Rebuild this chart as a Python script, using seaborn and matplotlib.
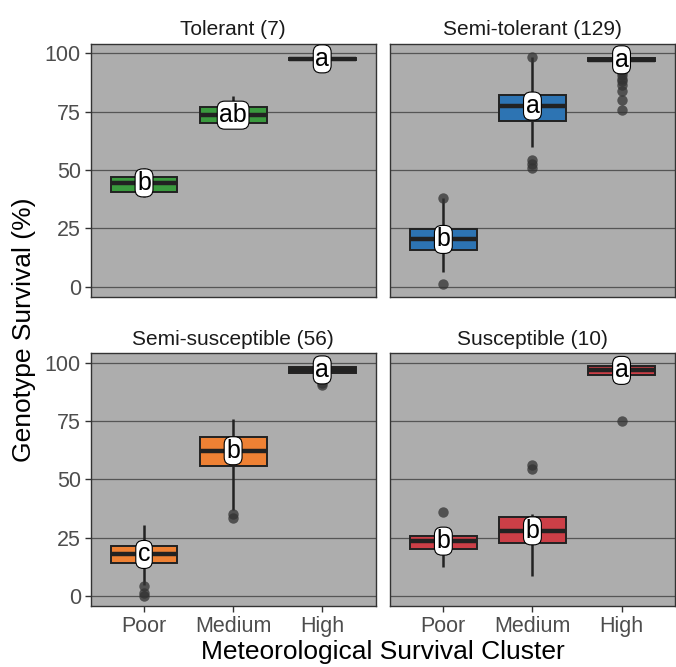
import pandas as pd
import matplotlib.pyplot as plt
import seaborn as sns

sns.set_style("ticks")
plt.rcParams["font.family"] = ["Liberation Sans", "DejaVu Sans"]

# categorias y paneles
clusters = ["Poor", "Medium", "High"]
groups = ["Tolerant (7)", "Semi-tolerant (129)", "Semi-susceptible (56)", "Susceptible (10)"]
fill_colors = ["#3A9A3E", "#2D74B3", "#EE8134", "#CC3F47"]

# resumen de cajas (un valor por cluster, un renglon por grupo)
whisker_low = [[38.5, 68.0, 97.0], [6.4, 60.0, 95.5], [5.0, 36.9, 94.0], [12.6, 8.7, 94.7]]
q1 = [[40.5, 70.0, 97.2], [15.8, 71.0, 96.5], [14.3, 55.9, 95.4], [20.1, 22.6, 94.7]]
median = [[44.5, 73.5, 97.6], [20.3, 77.4, 97.2], [17.9, 62.3, 96.9], [23.6, 28.0, 96.7]]
q3 = [[47.0, 77.0, 98.0], [24.6, 82.2, 97.8], [21.4, 68.3, 98.0], [26.0, 34.0, 98.6]]
whisker_high = [[51.0, 81.5, 98.3], [37.9, 98.6, 98.5], [30.4, 76.1, 98.6], [26.0, 35.1, 98.6]]

# letras de significancia
letters = [["b", "ab", "a"], ["b", "a", "a"], ["c", "b", "a"], ["b", "b", "a"]]

# valores atipicos
out_group = (["Semi-tolerant (129)"] * 14 + ["Semi-susceptible (56)"] * 7 + ["Susceptible (10)"] * 4)
out_cluster = (["Poor", "Poor", "Medium", "Medium", "Medium", "Medium"] + ["High"] * 8
               + ["Poor", "Poor", "Poor", "Medium", "Medium", "High", "High"]
               + ["Poor", "Medium", "Medium", "High"])
out_value = ([1.2, 37.9, 98.6, 54.3, 52.5, 50.8, 92.0, 90.5, 89.0, 88.0, 86.5, 84.0, 80.0, 75.5]
             + [4.2, 1.5, 0.3, 35.1, 33.7, 91.3, 90.5]
             + [36.1, 56.1, 54.3, 75.0])

rows = []
for gi, grp in enumerate(groups):
    for ci, cl in enumerate(clusters):
        for stat in (whisker_low, q1, median, q3, whisker_high):
            rows.append({"group": grp, "cluster": cl, "value": stat[gi][ci]})
box_df = pd.DataFrame(rows)
out_df = pd.DataFrame({"group": out_group, "cluster": out_cluster, "value": out_value})

fig, axes = plt.subplots(2, 2, figsize=(6.76, 6.67), dpi=100, sharex=True, sharey=True)
fig.subplots_adjust(left=0.134, right=0.9985, bottom=0.091, top=0.9345, wspace=0.05, hspace=0.222)

for gi, (ax, grp) in enumerate(zip(axes.flat, groups)):
    ax.set_facecolor("#ADADAD")
    sub = box_df[box_df["group"] == grp]
    sns.boxplot(data=sub, x="cluster", y="value", order=clusters, color=fill_colors[gi],
                saturation=1, whis=(0, 100), width=0.75, linecolor="#222222", linewidth=1.4,
                medianprops={"linewidth": 3.2}, whiskerprops={"linewidth": 1.8},
                capprops={"linewidth": 0}, fliersize=0, ax=ax)
    osub = out_df[out_df["group"] == grp]
    if len(osub):
        sns.stripplot(data=osub, x="cluster", y="value", order=clusters, jitter=False,
                      color="#333333", alpha=0.75, size=7.5, linewidth=0, ax=ax)
    for ci, cl in enumerate(clusters):
        ax.text(ci, median[gi][ci], letters[gi][ci], ha="center", va="center", fontsize=18,
                color="black", zorder=10,
                bbox=dict(boxstyle="round,pad=0.08,rounding_size=0.3", fc="white", ec="black", lw=0.8))
    ax.set_title(grp, fontsize=15, color="#1A1A1A", pad=6)
    ax.set_xlabel("")
    ax.set_ylabel("")
    ax.set_ylim(-4.3, 104.1)
    ax.set_xlim(-0.6, 2.6)
    ax.set_yticks([0, 25, 50, 75, 100])
    ax.yaxis.grid(True, color="#555555", linewidth=0.9)
    ax.xaxis.grid(False)
    ax.set_axisbelow(True)
    for s in ax.spines.values():
        s.set_visible(True)
        s.set_color("#333333")
        s.set_linewidth(1.0)
    ax.tick_params(axis="both", colors="#333333", labelcolor="#4D4D4D", labelsize=15.5,
                   length=4, width=1.0, pad=3)

for ax in axes[0]:
    ax.tick_params(axis="x", length=0)
for ax in axes[:, 1]:
    ax.tick_params(axis="y", length=0)

fig.text(0.0355, 0.505, "Genotype Survival (%)", rotation=90, ha="center", va="center",
         fontsize=19, color="black")
fig.text(0.567, 0.012, "Meteorological Survival Cluster", ha="center", va="baseline",
         fontsize=19, color="black")

plt.savefig("out.png", dpi=100)
